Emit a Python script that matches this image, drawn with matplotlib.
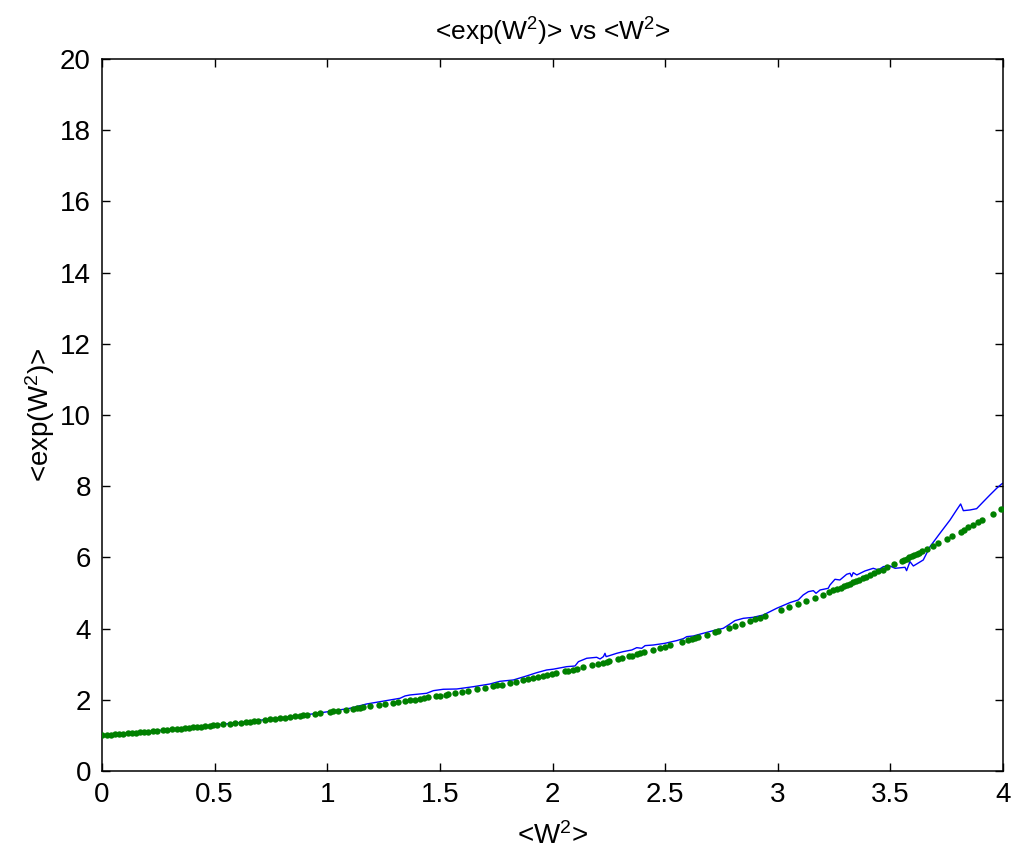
import matplotlib
matplotlib.use("Agg")
import matplotlib.pyplot as plt

plt.rcParams['font.family'] = ['Liberation Sans', 'DejaVu Sans']
plt.rcParams['mathtext.fontset'] = 'custom'
plt.rcParams['mathtext.rm'] = 'Liberation Sans'
plt.rcParams['mathtext.default'] = 'regular'

# Green dots: theoretical values
dots_x = [0.001, 0.021, 0.040, 0.058, 0.075, 0.095, 0.114, 0.132, 0.150, 0.169, 0.188, 0.206,
          0.225, 0.243, 0.272, 0.290, 0.309, 0.332, 0.351, 0.368, 0.388, 0.405, 0.423, 0.440,
          0.457, 0.479, 0.494, 0.509, 0.539, 0.568, 0.590, 0.617, 0.638, 0.657, 0.676, 0.694,
          0.724, 0.746, 0.768, 0.790, 0.812, 0.835, 0.857, 0.879, 0.894, 0.909, 0.946, 0.968,
          1.012, 1.027, 1.049, 1.083, 1.113, 1.131, 1.145, 1.160, 1.190, 1.231, 1.256, 1.293,
          1.315, 1.345, 1.367, 1.390, 1.412, 1.430, 1.449, 1.483, 1.501, 1.527, 1.537, 1.567,
          1.597, 1.626, 1.663, 1.700, 1.737, 1.755, 1.774, 1.811, 1.838, 1.868, 1.893, 1.915,
          1.937, 1.959, 1.977, 1.996, 2.016, 2.056, 2.070, 2.090, 2.107, 2.137, 2.174, 2.201,
          2.226, 2.241, 2.252, 2.292, 2.307, 2.341, 2.352, 2.376, 2.388, 2.408, 2.448, 2.477,
          2.500, 2.522, 2.574, 2.603, 2.618, 2.633, 2.647, 2.685, 2.722, 2.736, 2.785, 2.810,
          2.840, 2.877, 2.899, 2.921, 2.943, 3.013, 3.051, 3.088, 3.125, 3.165, 3.200, 3.229,
          3.247, 3.264, 3.279, 3.294, 3.309, 3.321, 3.335, 3.347, 3.362, 3.377, 3.392, 3.410,
          3.427, 3.447, 3.466, 3.487, 3.516, 3.550, 3.562, 3.572, 3.584, 3.595, 3.605, 3.617,
          3.628, 3.639, 3.661, 3.688, 3.713, 3.750, 3.772, 3.812, 3.828, 3.846, 3.868, 3.888,
          3.908, 3.957, 3.990]
dots_y = [1.000, 1.011, 1.020, 1.029, 1.038, 1.049, 1.059, 1.068, 1.078, 1.088, 1.099, 1.108,
          1.119, 1.129, 1.146, 1.156, 1.167, 1.181, 1.192, 1.202, 1.214, 1.224, 1.236, 1.246,
          1.257, 1.271, 1.280, 1.290, 1.309, 1.328, 1.343, 1.361, 1.376, 1.389, 1.402, 1.415,
          1.436, 1.452, 1.468, 1.484, 1.501, 1.518, 1.535, 1.552, 1.564, 1.575, 1.605, 1.623,
          1.659, 1.671, 1.690, 1.719, 1.745, 1.760, 1.773, 1.786, 1.813, 1.851, 1.874, 1.909,
          1.930, 1.959, 1.981, 2.004, 2.026, 2.044, 2.064, 2.099, 2.118, 2.146, 2.157, 2.189,
          2.222, 2.255, 2.297, 2.340, 2.383, 2.405, 2.428, 2.473, 2.507, 2.545, 2.577, 2.605,
          2.634, 2.663, 2.687, 2.713, 2.740, 2.795, 2.815, 2.843, 2.868, 2.911, 2.965, 3.006,
          3.043, 3.066, 3.083, 3.146, 3.169, 3.224, 3.241, 3.281, 3.300, 3.333, 3.401, 3.450,
          3.490, 3.529, 3.622, 3.675, 3.703, 3.731, 3.757, 3.829, 3.900, 3.928, 4.025, 4.076,
          4.137, 4.214, 4.261, 4.308, 4.356, 4.511, 4.598, 4.683, 4.771, 4.867, 4.953, 5.025,
          5.071, 5.114, 5.152, 5.191, 5.230, 5.262, 5.299, 5.331, 5.371, 5.411, 5.452, 5.502,
          5.549, 5.604, 5.658, 5.717, 5.801, 5.900, 5.936, 5.966, 6.002, 6.035, 6.065, 6.102,
          6.135, 6.169, 6.237, 6.322, 6.402, 6.521, 6.593, 6.726, 6.780, 6.841, 6.917, 6.987,
          7.057, 7.232, 7.353]

# Blue line: empirical values
line_x = [0.000, 0.200, 0.400, 0.600, 0.800, 0.900, 1.000, 1.100, 1.175, 1.323, 1.345, 1.367,
          1.441, 1.471, 1.515, 1.575, 1.649, 1.723, 1.767, 1.826, 1.885, 1.930, 1.974, 2.004,
          2.063, 2.100, 2.115, 2.152, 2.196, 2.211, 2.226, 2.233, 2.238, 2.248, 2.285, 2.314,
          2.352, 2.374, 2.396, 2.411, 2.448, 2.499, 2.551, 2.581, 2.596, 2.625, 2.669, 2.714,
          2.758, 2.788, 2.810, 2.847, 2.891, 2.936, 2.995, 3.054, 3.091, 3.113, 3.136, 3.158,
          3.170, 3.188, 3.224, 3.232, 3.254, 3.276, 3.306, 3.321, 3.328, 3.335, 3.351, 3.387,
          3.424, 3.446, 3.469, 3.498, 3.521, 3.565, 3.572, 3.587, 3.602, 3.617, 3.646, 3.676,
          3.720, 3.765, 3.794, 3.812, 3.824, 3.853, 3.883, 3.913, 3.942, 3.972, 3.994, 4.000]
line_y = [1.000, 1.106, 1.223, 1.353, 1.497, 1.572, 1.662, 1.760, 1.882, 2.042, 2.107, 2.135,
          2.182, 2.256, 2.295, 2.303, 2.368, 2.444, 2.519, 2.556, 2.669, 2.761, 2.837, 2.860,
          2.930, 2.949, 3.070, 3.166, 3.193, 3.146, 3.212, 3.305, 3.212, 3.230, 3.305, 3.352,
          3.399, 3.464, 3.446, 3.521, 3.539, 3.586, 3.661, 3.717, 3.773, 3.792, 3.867, 3.942,
          4.007, 4.129, 4.223, 4.288, 4.316, 4.382, 4.569, 4.729, 4.803, 4.944, 5.037, 5.065,
          4.991, 5.084, 5.131, 5.225, 5.384, 5.365, 5.525, 5.553, 5.459, 5.571, 5.506, 5.618,
          5.693, 5.646, 5.740, 5.758, 5.693, 5.721, 5.627, 5.880, 5.758, 5.815, 5.927, 6.301,
          6.676, 7.051, 7.331, 7.500, 7.312, 7.331, 7.368, 7.565, 7.753, 7.941, 8.062, 8.081]

x_ticks = [0, 0.5, 1, 1.5, 2, 2.5, 3, 3.5, 4]
x_labels = ['0', '0.5', '1', '1.5', '2', '2.5', '3', '3.5', '4']
y_ticks = [0, 2, 4, 6, 8, 10, 12, 14, 16, 18, 20]
y_labels = [str(v) for v in y_ticks]

fig = plt.figure(figsize=(10.12, 8.52), dpi=100)
ax = fig.add_axes([0.1008, 0.0951, 0.8903, 0.8357])

ax.plot(line_x, line_y, color='#0000ff', linewidth=1.0, zorder=2)
ax.plot(dots_x, dots_y, linestyle='none', marker='o', markersize=4.6,
        color='#008000', markeredgewidth=0, zorder=3)

ax.set_xlim(0, 4)
ax.set_ylim(0, 20)
ax.set_xticks(x_ticks)
ax.set_xticklabels(x_labels)
ax.set_yticks(y_ticks)
ax.set_yticklabels(y_labels)

ax.tick_params(direction='in', length=6, width=1.0, labelsize=20,
               top=True, right=True, pad=8, colors='black')
for sp in ax.spines.values():
    sp.set_linewidth(1.1)

ax.set_title('<exp(W$^2$)> vs <W$^2$>', fontsize=19, pad=13)
ax.set_xlabel('<W$^2$>', fontsize=20, labelpad=10)
ax.set_ylabel('<exp(W$^2$)>', fontsize=20, labelpad=2)

fig.savefig('out.png', dpi=100, facecolor='white')
